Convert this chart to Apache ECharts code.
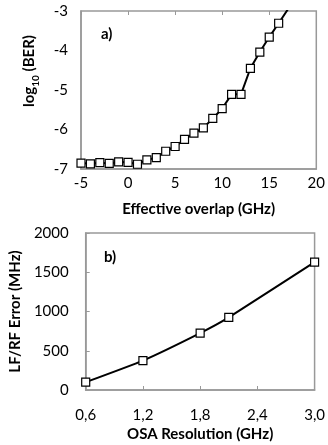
<!DOCTYPE html>
<html>
<head>
<meta charset="utf-8">
<title>BER / LF-RF error</title>
<script src="https://cdn.jsdelivr.net/npm/echarts@6/dist/echarts.min.js"></script>
<style>
	html, body { margin: 0; padding: 0; background: #fff; }
	#chart { width: 328px; height: 445px; }
</style>
</head>
<body>
<div id="chart"></div>
<script>
	// a) log10(BER) vs effective overlap
	var overlapX = [-5, -4, -3, -2, -1, 0, 1, 2, 3, 4, 5, 6, 7, 8, 9, 10, 11, 12, 13, 14, 15, 16, 17];
	var logBer = [-6.85, -6.87, -6.84, -6.86, -6.82, -6.83, -6.88, -6.77, -6.71, -6.55, -6.43, -6.25, -6.09, -5.96, -5.72, -5.47, -5.11, -5.11, -4.45, -4.04, -3.66, -3.31, -2.95];
	// b) LF/RF error vs OSA resolution
	var osaRes = [0.6, 1.2, 1.8, 2.1, 3.0];
	var lfrfErr = [100, 375, 725, 925, 1630];

	var fontFamily = 'Lato, "Liberation Sans", sans-serif';
	var boxColor = '#999999';
	var tickFont = 15;
	var nameFont = 15;

	var chart = echarts.init(document.getElementById('chart'));

	var pairs = function(xs, ys) {
		var out = [];
		for (var i = 0; i < xs.length; i++) {
			out.push([xs[i], ys[i]]);
		}
		return out;
	};

	var commaFmt = function(value) {
		return value.toFixed(1).replace('.', ',');
	};
	var plainFmt = function(value) {
		return String(value);
	};

	var option = {
		backgroundColor: '#fff',
		animation: false,
		textStyle: { fontFamily: fontFamily },
		title: [
			{ text: 'a)', left: 96, top: 22, textStyle: { fontSize: 15, fontWeight: 'bold', color: '#000', fontFamily: fontFamily } },
			{ text: 'b)', left: 99, top: 245, textStyle: { fontSize: 15, fontWeight: 'bold', color: '#000', fontFamily: fontFamily } }
		],
		grid: [
			{ left: 81, top: 11, width: 238, height: 158, show: true, borderColor: boxColor, borderWidth: 1.5 },
			{ left: 81, top: 233, width: 239, height: 157, show: true, borderColor: boxColor, borderWidth: 1.5 }
		],
		xAxis: [
			{
				gridIndex: 0,
				type: 'value',
				min: -5, max: 20, interval: 5,
				name: 'Effective overlap (GHz)',
				nameLocation: 'middle',
				nameGap: 33,
				nameTextStyle: { fontSize: nameFont, fontWeight: 'bold', color: '#000' },
				axisLine: { show: true, onZero: false, lineStyle: { color: boxColor, width: 1.5 } },
				axisTick: { show: false },
				axisLabel: { fontSize: tickFont, color: '#000', margin: 7, formatter: plainFmt },
				splitLine: { show: false }
			},
			{
				// ticks along the top edge only
				gridIndex: 0,
				type: 'value',
				position: 'top',
				min: -5, max: 20, interval: 5,
				axisLine: { show: false, onZero: false },
				axisTick: { show: true, inside: true, length: 4, lineStyle: { color: boxColor, width: 1 } },
				axisLabel: { show: false },
				splitLine: { show: false }
			},
			{
				gridIndex: 1,
				type: 'value',
				min: 0.6, max: 3.0, interval: 0.6,
				name: 'OSA Resolution (GHz)',
				nameLocation: 'middle',
				nameGap: 37,
				nameTextStyle: { fontSize: nameFont, fontWeight: 'bold', color: '#000' },
				axisLine: { show: true, onZero: false, lineStyle: { color: boxColor, width: 1.5 } },
				axisTick: { show: true, inside: true, length: 4, lineStyle: { color: boxColor, width: 1 } },
				axisLabel: { fontSize: tickFont, color: '#000', margin: 18, formatter: commaFmt },
				splitLine: { show: false }
			}
		],
		yAxis: [
			{
				gridIndex: 0,
				type: 'value',
				min: -7, max: -3, interval: 1,
				name: 'log{sub|10} (BER)',
				nameLocation: 'middle',
				nameGap: 40,
				nameTextStyle: {
					fontSize: nameFont, fontWeight: 'bold', color: '#000',
					padding: [0, 0, 0, 38],
					rich: {
						sub: { fontSize: 10, fontWeight: 'bold', color: '#000', verticalAlign: 'bottom', lineHeight: 24 }
					}
				},
				axisLine: { show: true, onZero: false, lineStyle: { color: boxColor, width: 1.5 } },
				axisTick: { show: false },
				axisLabel: { fontSize: tickFont, color: '#000', margin: 13, formatter: plainFmt },
				splitLine: { show: false }
			},
			{
				gridIndex: 1,
				type: 'value',
				min: 0, max: 2000, interval: 500,
				name: 'LF/RF Error (MHz)',
				nameLocation: 'middle',
				nameGap: 54,
				nameTextStyle: { fontSize: nameFont, fontWeight: 'bold', color: '#000' },
				axisLine: { show: true, onZero: false, lineStyle: { color: boxColor, width: 1.5 } },
				axisTick: { show: true, inside: true, length: 4, lineStyle: { color: boxColor, width: 1 } },
				axisLabel: { fontSize: tickFont, color: '#000', margin: 17, formatter: plainFmt },
				splitLine: { show: false }
			}
		],
		series: [
			{
				type: 'line',
				xAxisIndex: 0,
				yAxisIndex: 0,
				data: pairs(overlapX, logBer),
				clip: true,
				symbol: 'rect',
				symbolSize: 8,
				lineStyle: { color: '#000', width: 2 },
				itemStyle: { color: '#fff', borderColor: '#000', borderWidth: 1.2 }
			},
			{
				type: 'line',
				xAxisIndex: 2,
				yAxisIndex: 1,
				data: pairs(osaRes, lfrfErr),
				smooth: 0.15,
				symbol: 'rect',
				symbolSize: 8,
				lineStyle: { color: '#000', width: 2 },
				itemStyle: { color: '#fff', borderColor: '#000', borderWidth: 1.2 }
			}
		]
	};

	chart.setOption(option);
</script>
</body>
</html>
